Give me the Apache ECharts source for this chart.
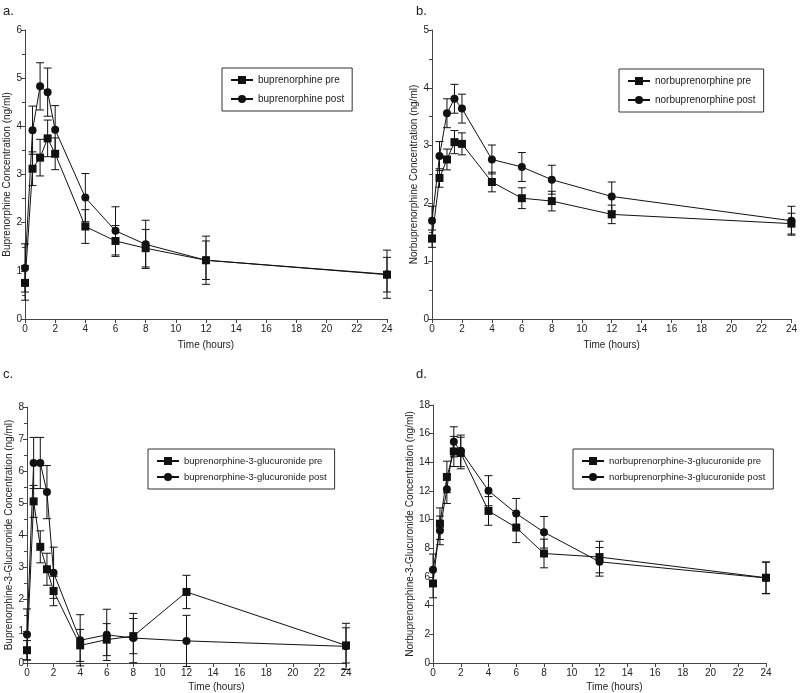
<!DOCTYPE html>
<html>
<head>
<meta charset="utf-8">
<script src="https://cdn.jsdelivr.net/npm/echarts@6/dist/echarts.min.js"></script>
<style>
  html, body { margin: 0; padding: 0; background: #fff; }
  #myEcharts { width: 800px; height: 693px; }
</style>
</head>
<body>
<div id="myEcharts"></div>
<script>
// sampling times (hours)
var hours = [0, 0.5, 1, 1.5, 2, 4, 6, 8, 12, 24];
var xTicks = [0, 2, 4, 6, 8, 10, 12, 14, 16, 18, 20, 22, 24];

// a. buprenorphine
var buPre = [0.75, 3.12, 3.35, 3.75, 3.43, 1.92, 1.62, 1.47, 1.22, 0.92];
var buPreErr = [0.36, 0.35, 0.38, 0.38, 0.33, 0.35, 0.32, 0.39, 0.4, 0.36];
var buPost = [1.06, 3.92, 4.83, 4.71, 3.93, 2.52, 1.83, 1.55, 1.22, 0.93];
var buPostErr = [0.5, 0.5, 0.49, 0.5, 0.5, 0.5, 0.5, 0.5, 0.5, 0.5];

// b. norbuprenorphine
var norPre = [1.39, 2.44, 2.76, 3.06, 3.03, 2.37, 2.09, 2.04, 1.81, 1.65];
var norPreErr = [0.15, 0.16, 0.18, 0.2, 0.19, 0.17, 0.18, 0.17, 0.16, 0.18];
var norPost = [1.7, 2.82, 3.56, 3.81, 3.64, 2.76, 2.63, 2.41, 2.12, 1.7];
var norPostErr = [0.25, 0.25, 0.25, 0.25, 0.25, 0.25, 0.25, 0.25, 0.25, 0.25];

// c. buprenorphine-3-glucuronide
var b3gPre = [0.4, 5.05, 3.63, 2.93, 2.25, 0.55, 0.73, 0.84, 2.22, 0.55];
var b3gPreErr = [0.3, 0.5, 0.5, 0.5, 0.46, 0.5, 0.5, 0.55, 0.52, 0.55];
var b3gPost = [0.89, 6.25, 6.25, 5.34, 2.82, 0.71, 0.88, 0.78, 0.69, 0.52];
var b3gPostErr = [0.8, 0.8, 0.8, 0.83, 0.8, 0.8, 0.8, 0.77, 0.8, 0.72];

// d. norbuprenorphine-3-glucuronide
var n3gPre = [5.55, 9.72, 12.98, 14.76, 14.65, 10.61, 9.45, 7.64, 7.39, 5.95];
var n3gPreErr = [1.0, 1.1, 1.1, 1.05, 1.1, 1.0, 1.05, 1.0, 1.1, 1.1];
var n3gPost = [6.5, 9.25, 12.13, 15.43, 14.8, 12.02, 10.43, 9.12, 7.06, 5.93];
var n3gPostErr = [1.1, 1.0, 1.0, 1.05, 1.1, 1.05, 1.05, 1.1, 1.0, 1.1];

var FONT = '"Liberation Sans", Arial, sans-serif';
var INK = '#111';

var chartDom = document.getElementById('myEcharts');
var myChart = echarts.init(chartDom);

var panels = [
  { letter: 'a.', yName: 'Buprenorphine Concentration (ng/ml)', yMax: 6, yStep: 1, minor: true,
    grid: { left: 25, right: 413, top: 30, bottom: 374 }, yGap: 12, xShift: 0,
    pre: ['buprenorphine pre', buPre, buPreErr], post: ['buprenorphine post', buPost, buPostErr],
    legend: { left: 222, top: 68, itemGap: 9, fontSize: 10 } },
  { letter: 'b.', yName: 'Norbuprenorphine Concentration (ng/ml)', yMax: 5, yStep: 1, minor: true,
    grid: { left: 432, right: 6, top: 30, bottom: 374 }, yGap: 13, xShift: 0,
    pre: ['norbuprenorphine pre', norPre, norPreErr], post: ['norbuprenorphine post', norPost, norPostErr],
    legend: { left: 619, top: 69, itemGap: 9, fontSize: 10 } },
  { letter: 'c.', yName: 'Buprenorphine-3-Glucuronide Concentration (ng/ml)', yMax: 8, yStep: 1, minor: true,
    grid: { left: 27, right: 454, top: 407, bottom: 30 }, yGap: 13, xShift: 60,
    pre: ['buprenorphine-3-glucuronide pre', b3gPre, b3gPreErr], post: ['buprenorphine-3-glucuronide post', b3gPost, b3gPostErr],
    legend: { left: 148, top: 449, itemGap: 6, fontSize: 9.5 } },
  { letter: 'd.', yName: 'Norbuprenorphine-3-Glucuronide Concentration (ng/ml)', yMax: 18, yStep: 2, minor: false,
    grid: { left: 433, right: 34, top: 405, bottom: 30 }, yGap: 16, xShift: 30,
    pre: ['norbuprenorphine-3-glucuronide pre', n3gPre, n3gPreErr], post: ['norbuprenorphine-3-glucuronide post', n3gPost, n3gPostErr],
    legend: { left: 573, top: 449, itemGap: 6, fontSize: 9.5 } }
];

var grid = [], xAxis = [], yAxis = [], series = [], legend = [], graphic = [];

// error bar drawn through the axes' scales
function errorBars() {
  return function (params, api) {
    var top = api.coord([api.value(0), api.value(2)]);
    var bot = api.coord([api.value(0), api.value(1)]);
    var w = 4;
    var style = { stroke: INK, lineWidth: 1 };
    return {
      type: 'group',
      children: [
        { type: 'line', shape: { x1: top[0], y1: top[1], x2: bot[0], y2: bot[1] }, style: style },
        { type: 'line', shape: { x1: top[0] - w, y1: top[1], x2: top[0] + w, y2: top[1] }, style: style },
        { type: 'line', shape: { x1: bot[0] - w, y1: bot[1], x2: bot[0] + w, y2: bot[1] }, style: style }
      ]
    };
  };
}

panels.forEach(function (p, idx) {
  grid.push(p.grid);
  xAxis.push({
    type: 'value', gridIndex: idx, min: 0, max: 24, interval: 2,
    name: 'Time (hours)', nameLocation: 'middle', nameGap: idx < 2 ? 21 : 19,
    nameTextStyle: { fontFamily: FONT, fontSize: 10, color: '#222', padding: [0, 0, 0, p.xShift] },
    axisLine: { lineStyle: { color: '#444' } },
    axisTick: { length: 4, lineStyle: { color: '#444' } },
    axisLabel: { fontFamily: FONT, fontSize: 10, color: '#222', margin: 5,
      formatter: function (v) { return xTicks.indexOf(v) >= 0 ? String(v) : ''; } },
    splitLine: { show: false }
  });
  yAxis.push({
    type: 'value', gridIndex: idx, min: 0, max: p.yMax, interval: p.yStep,
    name: p.yName, nameLocation: 'middle', nameGap: p.yGap, nameRotate: 90,
    nameTextStyle: { fontFamily: FONT, fontSize: 10, color: '#222' },
    axisLine: { show: true, lineStyle: { color: '#444' } },
    axisTick: { show: true, length: 4, lineStyle: { color: '#444' } },
    minorTick: { show: p.minor, splitNumber: 2, length: 3, lineStyle: { color: '#444' } },
    axisLabel: { fontFamily: FONT, fontSize: 10, color: '#222', margin: 3 },
    splitLine: { show: false }
  });

  [p.pre, p.post].forEach(function (s, k) {
    var vals = s[1], errs = s[2];
    series.push({
      name: s[0], type: 'line', xAxisIndex: idx, yAxisIndex: idx,
      symbol: k === 0 ? 'rect' : 'circle', symbolSize: 8,
      lineStyle: { color: INK, width: 1 }, itemStyle: { color: INK },
      data: hours.map(function (t, i) { return [t, vals[i]]; }),
      animation: false, z: 3, clip: false
    });
    series.push({
      type: 'custom', xAxisIndex: idx, yAxisIndex: idx, clip: false,
      renderItem: errorBars(),
      encode: { x: 0, y: [1, 2] },
      data: hours.map(function (t, i) { return [t, vals[i] - errs[i], vals[i] + errs[i]]; }),
      animation: false, z: 2, silent: true
    });
  });

  legend.push({
    orient: 'vertical', left: p.legend.left, top: p.legend.top,
    data: [p.pre[0], p.post[0]],
    itemWidth: 22, itemHeight: 10, itemGap: p.legend.itemGap,
    padding: [7, 8, 7, 8],
    borderColor: '#333', borderWidth: 1, borderRadius: 0,
    textStyle: { fontFamily: FONT, fontSize: p.legend.fontSize, color: '#222' },
    selectedMode: false
  });

  graphic.push({
    type: 'text',
    left: idx % 2 === 0 ? 3 : 416,
    top: idx < 2 ? 5 : 368,
    style: { text: p.letter, font: '13px ' + FONT, fill: '#222' }
  });
});

var option = {
  backgroundColor: '#fff',
  animation: false,
  grid: grid,
  xAxis: xAxis,
  yAxis: yAxis,
  legend: legend,
  graphic: graphic,
  series: series
};
myChart.setOption(option);
</script>
</body>
</html>
